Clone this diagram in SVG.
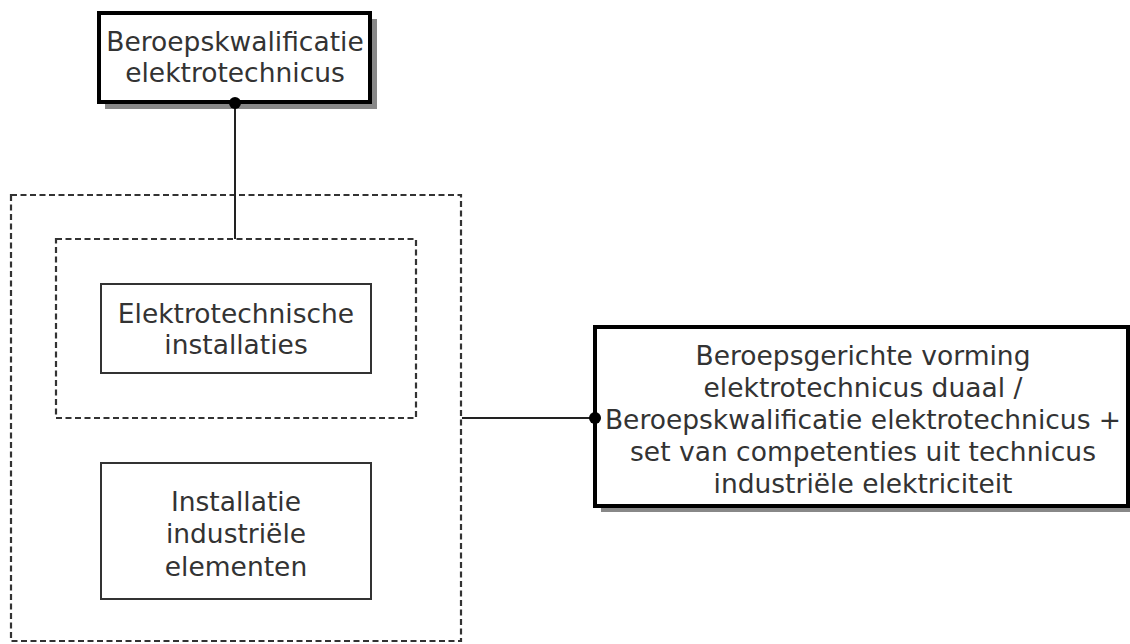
<svg xmlns="http://www.w3.org/2000/svg" width="1130" height="644" viewBox="0 0 1130 644">
<style>
text{font-family:"DejaVu Sans","Liberation Sans",sans-serif;font-size:26.5px;fill:#333;text-anchor:middle}
.thick{fill:#fff;stroke:#000;stroke-width:4}
.shadow{fill:#888}
.thin{fill:#fff;stroke:#333;stroke-width:2}
.dash{fill:none;stroke:#333;stroke-width:2.2;stroke-dasharray:6,3.5}
.conn{stroke:#222;stroke-width:2;fill:none}
</style>
<rect width="1130" height="644" fill="#fff"/>
<g id="outer-group">
<rect class="dash" x="11" y="195" width="450" height="446"/>
</g>
<g id="inner-group">
<rect class="dash" x="56" y="239" width="360" height="179"/>
</g>
<g id="node-top">
<rect class="shadow" x="105" y="19" width="272" height="90"/>
<rect class="thick" x="99" y="13" width="271" height="89"/>
<text x="235" y="51">Beroepskwalificatie</text>
<text x="235" y="82">elektrotechnicus</text>
</g>
<g id="node-elektro">
<rect class="thin" x="101" y="284" width="270" height="89"/>
<text x="236" y="323">Elektrotechnische</text>
<text x="236" y="354">installaties</text>
</g>
<g id="node-install">
<rect class="thin" x="101" y="463" width="270" height="136"/>
<text x="236" y="511">Installatie</text>
<text x="236" y="543">industriële</text>
<text x="236" y="576">elementen</text>
</g>
<g id="node-right">
<rect class="shadow" x="601" y="332" width="540" height="180"/>
<rect class="thick" x="595" y="327" width="533" height="179"/>
<text x="863" y="365">Beroepsgerichte vorming</text>
<text x="863" y="397">elektrotechnicus duaal /</text>
<text x="863" y="429">Beroepskwalificatie elektrotechnicus +</text>
<text x="863" y="461">set van competenties uit technicus</text>
<text x="863" y="493">industriële elektriciteit</text>
</g>
<g id="connectors">
<line class="conn" x1="235" y1="103" x2="235" y2="239"/>
<circle cx="235" cy="103" r="6" fill="#000"/>
<line class="conn" x1="462" y1="418" x2="595" y2="418"/>
<circle cx="595" cy="418" r="6" fill="#000"/>
</g>
</svg>
